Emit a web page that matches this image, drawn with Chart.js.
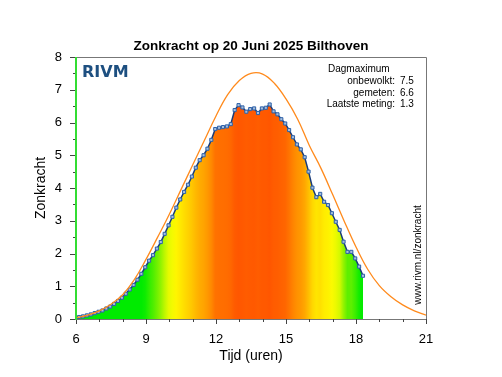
<!DOCTYPE html>
<html><head><meta charset="utf-8">
<script src="https://cdn.jsdelivr.net/npm/chart.js@4/dist/chart.umd.min.js"></script>
<style>html,body{margin:0;padding:0;background:#fff}canvas{display:block}</style>
</head><body>
<canvas id="c" width="502" height="377"></canvas>
<script>
const times = ["05:58","06:08","06:18","06:28","06:38","06:48","06:58","07:08","07:18","07:28",
"07:38","07:48","07:58","08:08","08:18","08:28","08:38","08:48","08:58","09:08",
"09:18","09:28","09:38","09:48","09:58","10:08","10:18","10:28","10:38","10:48",
"10:58","11:08","11:18","11:28","11:38","11:48","11:58","12:08","12:18","12:28",
"12:38","12:48","12:58","13:08","13:18","13:28","13:38","13:48","13:58","14:08",
"14:18","14:28","14:38","14:48","14:58","15:08","15:18","15:28","15:38","15:48",
"15:58","16:08","16:18","16:28","16:38","16:48","16:58","17:08","17:18","17:28",
"17:38","17:48","17:58","18:08","18:18"];
const measured = [0.04,0.06,0.08,0.11,0.14,0.18,0.22,0.26,0.32,0.38,
0.46,0.55,0.65,0.77,0.90,1.04,1.20,1.38,1.58,1.78,
1.95,2.15,2.35,2.60,2.86,3.12,3.40,3.65,3.88,4.10,
4.35,4.62,4.85,5.00,5.20,5.47,5.80,5.84,5.86,5.88,
5.95,6.38,6.53,6.46,6.33,6.41,6.43,6.29,6.43,6.45,
6.55,6.34,6.25,6.10,5.97,5.77,5.55,5.33,5.18,4.94,
4.50,4.01,3.72,3.82,3.58,3.48,3.23,2.97,2.72,2.36,
2.05,2.05,1.85,1.60,1.32];
const clearHours = [6,6.5,7,7.5,8,8.5,9,9.5,10,10.5,11,11.5,12,12.5,13,13.5,14,14.5,15,15.5,16,16.5,17,17.5,18,18.5,19,19.5,20,20.5,21];
const clearSky = [0.04,0.12,0.25,0.45,0.74,1.20,1.82,2.50,3.20,3.95,4.70,5.45,6.20,6.85,7.28,7.50,7.48,7.20,6.72,6.10,5.30,4.60,3.80,2.98,2.20,1.52,1.02,0.68,0.43,0.25,0.12];
const xTickLabels = [6,9,12,15,18,21];
const yTickLabels = [0,1,2,3,4,5,6,7,8];
const titleText = "Zonkracht op 20 Juni 2025 Bilthoven";
const infoLabels = ["onbewolkt:","gemeten:","Laatste meting:"];
const infoValues = ["7.5","6.6","1.3"];

const toHours = s => { const [h,m] = s.split(":").map(Number); return h + m/60; };
const measPts = times.map((t,i) => ({x: toHours(t), y: measured[i]}));
const clearPts = clearHours.map((h,i) => ({x: h, y: clearSky[i]}));

const stops = [[0,[0,235,0]],[1.5,[0,235,0]],[2.2,[120,240,0]],[2.8,[225,250,0]],[3.3,[255,250,0]],[4.0,[255,215,0]],[4.8,[255,175,0]],[5.5,[255,135,0]],[6.0,[255,100,0]],[6.6,[255,85,0]],[9,[255,85,0]]];
function uvColor(v){
  for (let i=0;i<stops.length-1;i++){
    const [a,ca]=stops[i],[b,cb]=stops[i+1];
    if (v<=b){ const f=Math.max(0,(v-a)/(b-a)); const c=ca.map((x,k)=>Math.round(x+(cb[k]-x)*f)); return `rgb(${c[0]},${c[1]},${c[2]})`; }
  }
  return 'rgb(255,85,0)';
}
function fillGradient(ctx){
  const chart = ctx.chart, area = chart.chartArea, xs = chart.scales.x;
  if (!area || !xs) return 'rgba(0,0,0,0)';
  const g = chart.ctx.createLinearGradient(area.left,0,area.right,0);
  measPts.forEach(p => {
    const f = (xs.getPixelForValue(p.x)-area.left)/(area.right-area.left);
    if (f>=0 && f<=1) g.addColorStop(f, uvColor(p.y));
  });
  return g;
}

const FONT = "'Liberation Sans', Arial, Helvetica, sans-serif";

const decor = {
  id: 'decor',
  afterDraw(chart){
    const c = chart.ctx, a = chart.chartArea, xs = chart.scales.x, ys = chart.scales.y;
    c.save();
    c.strokeStyle = '#777'; c.lineWidth = 1;
    c.beginPath();
    c.moveTo(a.left, a.top+0.5); c.lineTo(a.right+0.5, a.top+0.5); c.lineTo(a.right+0.5, a.bottom+0.5); c.lineTo(a.left, a.bottom+0.5);
    c.stroke();
    c.strokeStyle = '#444';
    c.beginPath();
    for (let v=0; v<=8.001; v+=0.5){
      const y = Math.round(ys.getPixelForValue(v))+0.5;
      const len = Number.isInteger(v) ? 6 : 3;
      c.moveTo(a.left-len, y); c.lineTo(a.left, y);
    }
    for (let h=6; h<=21; h++){
      const x = Math.round(xs.getPixelForValue(h))+0.5;
      const len = (h%3===0) ? 5 : 3;
      c.moveTo(x, a.bottom); c.lineTo(x, a.bottom+len);
    }
    c.stroke();
    c.strokeStyle = '#33dd33'; c.lineWidth = 2;
    c.beginPath(); c.moveTo(a.left, a.top); c.lineTo(a.left, a.bottom+1); c.stroke();
    c.fillStyle = '#000'; c.textAlign = 'center'; c.textBaseline = 'alphabetic';
    c.font = `bold 13.5px ${FONT}`;
    c.fillText(titleText, 251, 50);
    c.fillStyle = '#1d4f80'; c.textAlign = 'left';
    c.font = `bold 16px 'DejaVu Sans', sans-serif`;
    c.fillText('RIVM', 82, 77);
    c.fillStyle = '#000'; c.font = `10px ${FONT}`;
    c.fillText('Dagmaximum', 328, 72);
    infoLabels.forEach((l,i) => {
      const y = 84 + i*11.5;
      c.textAlign = 'right'; c.fillText(l, 395, y);
      c.textAlign = 'left'; c.fillText(infoValues[i], 400, y);
    });
    c.translate(418, 255); c.rotate(-Math.PI/2);
    c.textAlign = 'center'; c.textBaseline = 'middle';
    c.fillText('www.rivm.nl/zonkracht', 0, 0);
    c.restore();
  }
};

new Chart(document.getElementById('c'), {
  type: 'line',
  data: { datasets: [
    { data: clearPts, borderColor: '#ff8a1c', borderWidth: 1.3, pointRadius: 0, fill: false, tension: 0.4 },
    { data: measPts, borderColor: '#1a3b78', borderWidth: 1.5, pointStyle: 'rect', pointRadius: 2.2,
      pointBorderColor: '#2d60a8', pointBackgroundColor: '#a8bfdc', pointBorderWidth: 1,
      fill: 'origin', backgroundColor: fillGradient, tension: 0 }
  ]},
  options: {
    responsive: false, animation: false, devicePixelRatio: 1,
    layout: { padding: { left: 0, right: 76, top: 57, bottom: 0 } },
    plugins: { legend: { display: false }, title: { display: false }, tooltip: { enabled: false } },
    scales: {
      x: { type: 'linear', min: 6, max: 21,
        afterFit: s => { s.height = 58; },
        afterBuildTicks: s => { s.ticks = xTickLabels.map(v => ({value: v})); },
        grid: { display: false, drawTicks: false }, border: { display: false },
        ticks: { color: '#000', font: { family: FONT, size: 13 }, padding: 13, maxRotation: 0, autoSkip: false },
        title: { display: true, text: 'Tijd (uren)', color: '#000', font: { family: FONT, size: 14 }, padding: { top: 12, bottom: 12 } } },
      y: { min: 0, max: 8,
        afterFit: s => { s.width = 76; },
        afterBuildTicks: s => { s.ticks = yTickLabels.map(v => ({value: v})); },
        grid: { display: false, drawTicks: false }, border: { display: false },
        ticks: { color: '#000', font: { family: FONT, size: 13 }, padding: 14 },
        title: { display: true, text: 'Zonkracht', color: '#000', font: { family: FONT, size: 14 }, padding: { top: 33, bottom: 33 } } }
    }
  },
  plugins: [decor]
});
</script>
</body></html>
